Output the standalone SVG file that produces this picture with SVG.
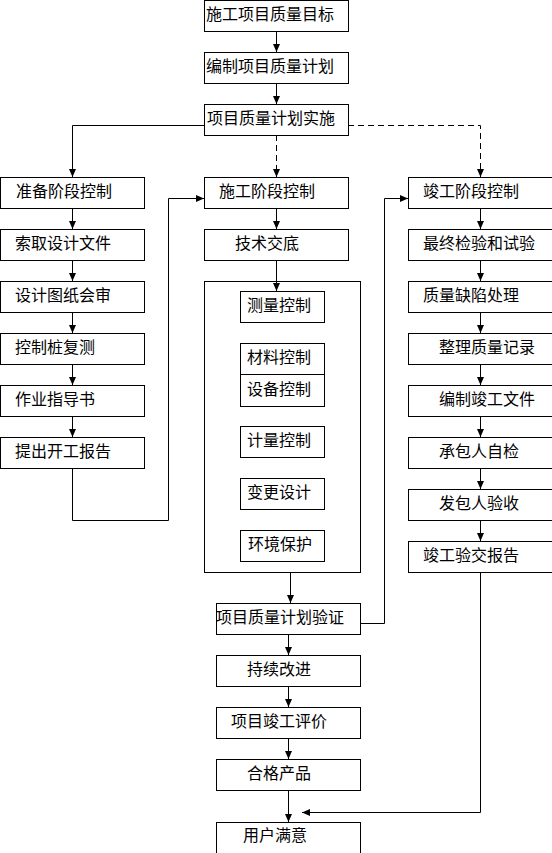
<svg xmlns="http://www.w3.org/2000/svg" width="552" height="853" viewBox="0 0 552 853">
<style>
.box{fill:#fff;stroke:#000;stroke-width:1}
.t{font-family:"Noto Sans CJK SC","Noto Sans",sans-serif;font-size:16px;fill:#000}
.c{fill:none;stroke:#000;stroke-width:1}
.d{stroke-dasharray:6 4}
.a{marker-end:url(#ah)}
</style>
<defs>
<marker id="ah" viewBox="0 0 8 8" markerWidth="8" markerHeight="8" refX="8" refY="4" orient="auto" markerUnits="userSpaceOnUse">
<path d="M0,0.5 L8,4 L0,7.5 z" fill="#000"/>
</marker>
</defs>
<rect width="552" height="853" fill="#fff"/>
<g id="connectors">
<path class="c a" d="M276.5,31 V52"/>
<path class="c a" d="M276.5,83 V104"/>
<path class="c a" d="M204,125.5 H72.5 V177"/>
<path class="c d a" d="M276.5,135 V177"/>
<path class="c d a" d="M348,125.5 H480.5 V177"/>
<path class="c a" d="M72.5,208 V229"/>
<path class="c a" d="M72.5,260 V281"/>
<path class="c a" d="M72.5,312 V333"/>
<path class="c a" d="M72.5,364 V385"/>
<path class="c a" d="M72.5,416 V437"/>
<path class="c a" d="M72.5,468 V520.5 H168.5 V198.5 H204"/>
<path class="c a" d="M276.5,208 V229"/>
<path class="c a" d="M276.5,260 V291"/>
<path class="c a" d="M290.5,572 V603"/>
<path class="c a" d="M360,623.5 H384.5 V198.5 H408"/>
<path class="c a" d="M288.5,634 V655"/>
<path class="c a" d="M288.5,686 V707"/>
<path class="c a" d="M288.5,738 V759"/>
<path class="c a" d="M288.5,790 V822"/>
<path class="c a" d="M480.5,208 V229"/>
<path class="c a" d="M480.5,260 V281"/>
<path class="c a" d="M480.5,312 V333"/>
<path class="c a" d="M480.5,364 V385"/>
<path class="c a" d="M480.5,416 V437"/>
<path class="c a" d="M480.5,468 V489"/>
<path class="c a" d="M480.5,520 V541"/>
<path class="c a" d="M480.5,572 V812.5 H302"/>
</g>
<g id="n1"><rect class="box" x="204.5" y="0.5" width="144" height="31"/><text class="t" x="206" y="20">施工项目质量目标</text></g>
<g id="n2"><rect class="box" x="204.5" y="52.5" width="144" height="31"/><text class="t" x="206" y="72">编制项目质量计划</text></g>
<g id="n3"><rect class="box" x="204.5" y="104.5" width="144" height="31"/><text class="t" x="207" y="124">项目质量计划实施</text></g>
<g id="l1"><rect class="box" x="0.5" y="177.5" width="144" height="31"/><text class="t" x="16" y="197">准备阶段控制</text></g>
<g id="l2"><rect class="box" x="0.5" y="229.5" width="144" height="31"/><text class="t" x="15" y="249">索取设计文件</text></g>
<g id="l3"><rect class="box" x="0.5" y="281.5" width="144" height="31"/><text class="t" x="15" y="301">设计图纸会审</text></g>
<g id="l4"><rect class="box" x="0.5" y="333.5" width="144" height="31"/><text class="t" x="15" y="353">控制桩复测</text></g>
<g id="l5"><rect class="box" x="0.5" y="385.5" width="144" height="31"/><text class="t" x="15" y="405">作业指导书</text></g>
<g id="l6"><rect class="box" x="0.5" y="437.5" width="144" height="31"/><text class="t" x="15" y="457">提出开工报告</text></g>
<g id="m1"><rect class="box" x="204.5" y="177.5" width="144" height="31"/><text class="t" x="219" y="197">施工阶段控制</text></g>
<g id="m2"><rect class="box" x="204.5" y="229.5" width="144" height="31"/><text class="t" x="235" y="249">技术交底</text></g>
<g id="container"><rect class="box" x="204.5" y="281.5" width="156" height="291" fill="none" style="fill:none"/></g>
<g id="i1"><rect class="box" x="240.5" y="291.5" width="84" height="31"/><text class="t" x="247" y="311">测量控制</text></g>
<g id="i2"><rect class="box" x="240.5" y="343.5" width="84" height="31"/><text class="t" x="247" y="363">材料控制</text></g>
<g id="i3"><rect class="box" x="240.5" y="374.5" width="84" height="32"/><text class="t" x="247" y="395">设备控制</text></g>
<g id="i4"><rect class="box" x="240.5" y="426.5" width="84" height="31"/><text class="t" x="247" y="446">计量控制</text></g>
<g id="i5"><rect class="box" x="240.5" y="478.5" width="84" height="31"/><text class="t" x="247" y="498">变更设计</text></g>
<g id="i6"><rect class="box" x="240.5" y="530.5" width="84" height="31"/><text class="t" x="248" y="550">环境保护</text></g>
<g id="r1"><rect class="box" x="408.5" y="177.5" width="150" height="31"/><text class="t" x="423" y="197">竣工阶段控制</text></g>
<g id="r2"><rect class="box" x="408.5" y="229.5" width="150" height="31"/><text class="t" x="423" y="249">最终检验和试验</text></g>
<g id="r3"><rect class="box" x="408.5" y="281.5" width="150" height="31"/><text class="t" x="423" y="301">质量缺陷处理</text></g>
<g id="r4"><rect class="box" x="408.5" y="333.5" width="150" height="31"/><text class="t" x="439" y="353">整理质量记录</text></g>
<g id="r5"><rect class="box" x="408.5" y="385.5" width="150" height="31"/><text class="t" x="439" y="405">编制竣工文件</text></g>
<g id="r6"><rect class="box" x="408.5" y="437.5" width="150" height="31"/><text class="t" x="439" y="457">承包人自检</text></g>
<g id="r7"><rect class="box" x="408.5" y="489.5" width="150" height="31"/><text class="t" x="439" y="509">发包人验收</text></g>
<g id="r8"><rect class="box" x="408.5" y="541.5" width="150" height="31"/><text class="t" x="423" y="561">竣工验交报告</text></g>
<g id="b1"><rect class="box" x="216.5" y="603.5" width="144" height="31"/><text class="t" x="216" y="623">项目质量计划验证</text></g>
<g id="b2"><rect class="box" x="216.5" y="655.5" width="144" height="31"/><text class="t" x="247" y="675">持续改进</text></g>
<g id="b3"><rect class="box" x="216.5" y="707.5" width="144" height="31"/><text class="t" x="231" y="727">项目竣工评价</text></g>
<g id="b4"><rect class="box" x="216.5" y="759.5" width="144" height="31"/><text class="t" x="247" y="779">合格产品</text></g>
<g id="b5"><rect class="box" x="216.5" y="822.5" width="144" height="40"/><text class="t" x="243" y="841">用户满意</text></g>
</svg>
